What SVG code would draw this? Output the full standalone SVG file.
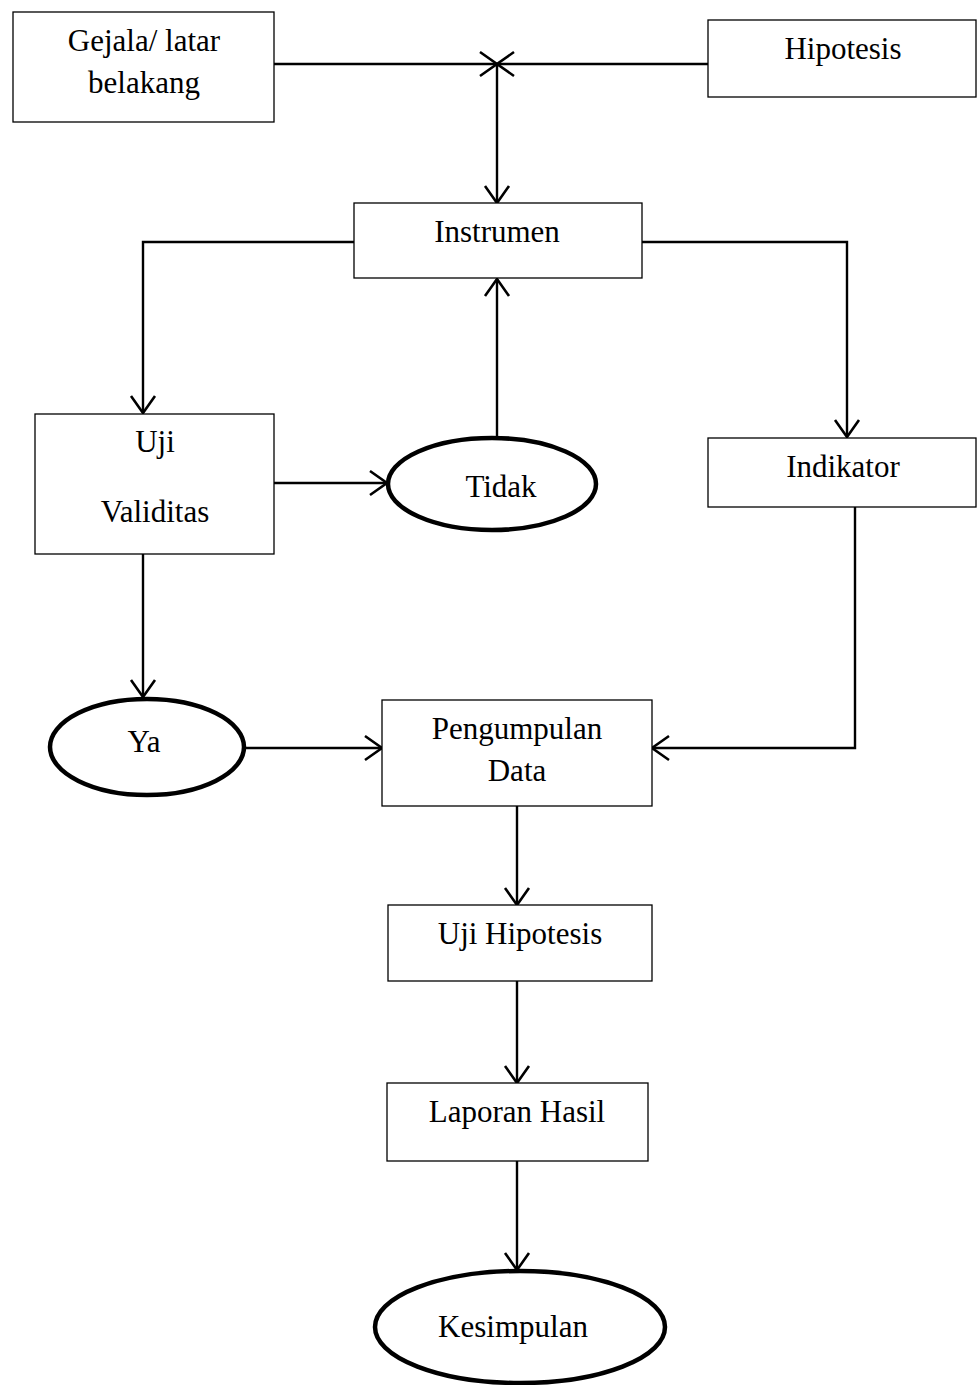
<svg xmlns="http://www.w3.org/2000/svg" width="977" height="1385" viewBox="0 0 977 1385">
<style>
.box{fill:#fff;stroke:#000;stroke-width:1.3}
.ell{fill:#fff;stroke:#000;stroke-width:4.5}
.t{font-family:"Liberation Serif","Times New Roman",serif;font-size:31px;fill:#000;text-anchor:middle}
.c{fill:none;stroke:#000;stroke-width:2.4;marker-end:url(#arr)}
</style>
<defs>
<marker id="arr" markerUnits="userSpaceOnUse" markerWidth="30" markerHeight="30" refX="20" refY="15" orient="auto" viewBox="0 0 30 30">
<path d="M3,3 L20,15 L3,27" fill="none" stroke="#000" stroke-width="2.6"/>
</marker>
</defs>
<g id="connectors">
<path class="c" d="M274,64 L497,64"/>
<path class="c" d="M708,64 L497,64"/>
<path class="c" d="M497,64 L497,203"/>
<path class="c" d="M354,242 L143,242 L143,413"/>
<path class="c" d="M642,242 L847,242 L847,437"/>
<path class="c" d="M274,483 L387,483"/>
<path class="c" d="M497,437 L497,279"/>
<path class="c" d="M855,507 L855,748 L652,748"/>
<path class="c" d="M143,554 L143,697"/>
<path class="c" d="M246,748 L382,748"/>
<path class="c" d="M517,806 L517,905"/>
<path class="c" d="M517,981 L517,1083"/>
<path class="c" d="M517,1161 L517,1270"/>
</g>
<g id="gejala">
<rect class="box" x="13" y="12" width="261" height="110"/>
<text class="t" x="144" y="51">Gejala/ latar</text>
<text class="t" x="144" y="93">belakang</text>
</g>
<g id="hipotesis">
<rect class="box" x="708" y="20" width="268" height="77"/>
<text class="t" x="843" y="59">Hipotesis</text>
</g>
<g id="instrumen">
<rect class="box" x="354" y="203" width="288" height="75"/>
<text class="t" x="497" y="242">Instrumen</text>
</g>
<g id="uji-validitas">
<rect class="box" x="35" y="414" width="239" height="140"/>
<text class="t" x="155" y="452">Uji</text>
<text class="t" x="155" y="522">Validitas</text>
</g>
<g id="tidak">
<ellipse class="ell" cx="492" cy="484" rx="104" ry="46"/>
<text class="t" x="501" y="497">Tidak</text>
</g>
<g id="indikator">
<rect class="box" x="708" y="438" width="268" height="69"/>
<text class="t" x="843" y="477">Indikator</text>
</g>
<g id="ya">
<ellipse class="ell" cx="147" cy="747" rx="97" ry="48"/>
<text class="t" x="144" y="752">Ya</text>
</g>
<g id="pengumpulan">
<rect class="box" x="382" y="700" width="270" height="106"/>
<text class="t" x="517" y="739">Pengumpulan</text>
<text class="t" x="517" y="781">Data</text>
</g>
<g id="uji-hipotesis">
<rect class="box" x="388" y="905" width="264" height="76"/>
<text class="t" x="520" y="944">Uji Hipotesis</text>
</g>
<g id="laporan">
<rect class="box" x="387" y="1083" width="261" height="78"/>
<text class="t" x="517" y="1122">Laporan Hasil</text>
</g>
<g id="kesimpulan">
<ellipse class="ell" cx="520" cy="1327" rx="145" ry="56"/>
<text class="t" x="513" y="1337">Kesimpulan</text>
</g>
</svg>
